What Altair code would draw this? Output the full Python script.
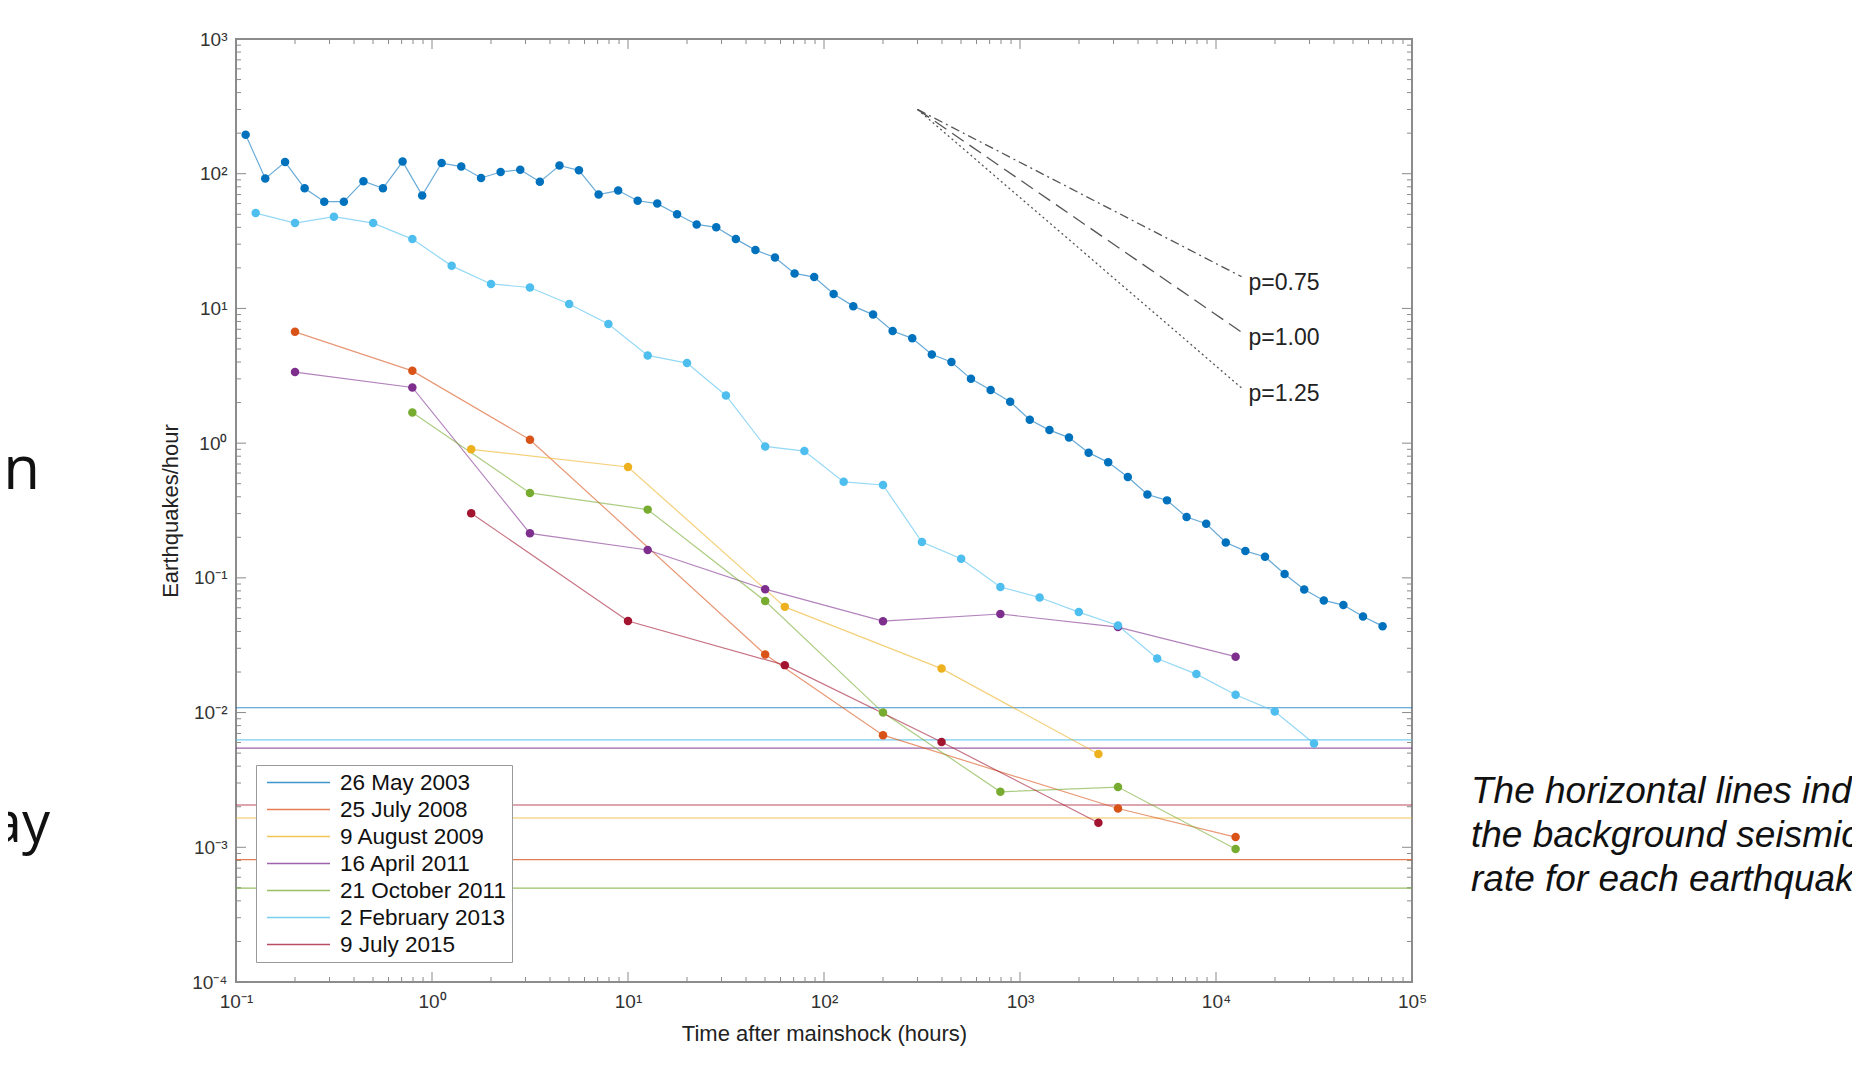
import altair as alt
import pandas as pd

# ---------------- data ----------------
events = ["26 May 2003", "25 July 2008", "9 August 2009", "16 April 2011",
          "21 October 2011", "2 February 2013", "9 July 2015"]
colors = ["#0072BD", "#D95319", "#EDB120", "#7E2F8E", "#77AC30", "#4DBEEE", "#A2142F"]

t_2003 = [0.112, 0.141, 0.178, 0.224, 0.282, 0.355, 0.447, 0.562, 0.708, 0.891,
          1.12, 1.41, 1.78, 2.24, 2.82, 3.55, 4.47, 5.62, 7.08, 8.91,
          11.2, 14.1, 17.8, 22.4, 28.2, 35.5, 44.7, 56.2, 70.8, 89.1,
          112, 141, 178, 224, 282, 355, 447, 562, 708, 891,
          1122, 1413, 1778, 2239, 2818, 3548, 4467, 5623, 7079, 8913,
          11220, 14125, 17783, 22387, 28184, 35481, 44668, 56234, 70795]
r_2003 = [195, 92, 122, 78, 62, 62, 88, 78, 123, 69,
          120, 113, 93, 103, 107, 87, 115, 106, 70, 75,
          63, 60, 50, 42, 40, 32.7, 27.1, 23.9, 18.2, 17.1,
          12.8, 10.4, 9.0, 6.8, 6.0, 4.55, 4.0, 3.0, 2.48, 2.03,
          1.49, 1.25, 1.10, 0.85, 0.72, 0.56, 0.416, 0.376, 0.283, 0.252,
          0.183, 0.158, 0.1435, 0.1067, 0.082, 0.068, 0.0628, 0.0517, 0.0438]

t_2008 = [0.2, 0.794, 3.16, 50.1, 200, 3162, 12589]
r_2008 = [6.7, 3.44, 1.06, 0.027, 0.0068, 0.00194, 0.00119]

t_2009 = [1.585, 10, 63.1, 398, 2512]
r_2009 = [0.90, 0.665, 0.0609, 0.0212, 0.00493]

t_2011a = [0.2, 0.794, 3.16, 12.6, 50.1, 200, 794, 3162, 12589]
r_2011a = [3.37, 2.59, 0.214, 0.161, 0.0824, 0.0477, 0.0539, 0.0431, 0.026]

t_2011b = [0.794, 3.16, 12.6, 50.1, 200, 794, 3162, 12589]
r_2011b = [1.69, 0.427, 0.321, 0.0673, 0.0100, 0.00258, 0.0028, 0.00097]

t_2013 = [0.126, 0.2, 0.316, 0.501, 0.794, 1.26, 2.0, 3.16, 5.01, 7.94,
          12.6, 20.0, 31.6, 50.1, 79.4, 126, 200, 316, 501, 794,
          1259, 1995, 3162, 5012, 7943, 12589, 19953, 31623]
r_2013 = [51, 43, 48, 43, 32.7, 20.7, 15.2, 14.3, 10.8, 7.66,
          4.48, 3.93, 2.26, 0.946, 0.873, 0.516, 0.489, 0.1845, 0.1387, 0.0855,
          0.0715, 0.0557, 0.0443, 0.0252, 0.0193, 0.01356, 0.0102, 0.0059]

t_2015 = [1.585, 10, 63.1, 398, 2512]
r_2015 = [0.302, 0.0478, 0.0225, 0.00604, 0.00152]

# background seismicity rate per event (same order as events)
bg_rates = [0.01086, 0.00081, 0.00165, 0.00545, 0.000498, 0.00628, 0.00206]

# Omori reference slopes
p_labels = ["p=0.75", "p=1.00", "p=1.25"]
p_start_t = 300
p_start_r = 300
p_end_t = 13500
p_end_r = [17.2, 6.66, 2.57]

# axis ticks
x_major = [0.1, 1, 10, 100, 1000, 10000, 100000]
x_labels = ["10⁻¹", "10⁰", "10¹", "10²", "10³", "10⁴", "10⁵"]
y_major = [0.0001, 0.001, 0.01, 0.1, 1, 10, 100, 1000]
y_labels = ["10⁻⁴", "10⁻³", "10⁻²", "10⁻¹", "10⁰", "10¹", "10²", "10³"]
x_minor = [m * 10.0 ** e for e in range(-1, 5) for m in range(2, 10)]
y_minor = [m * 10.0 ** e for e in range(-4, 3) for m in range(2, 10)]

x_title = "Time after mainshock (hours)"
y_title = "Earthquakes/hour"
note_text = "The horizontal lines indicate\nthe background seismicity\nrate for each earthquake"
side_texts = ["n", "ay"]

# ---------------- tables ----------------
series = [t_2003, t_2008, t_2009, t_2011a, t_2011b, t_2013, t_2015]
rates = [r_2003, r_2008, r_2009, r_2011a, r_2011b, r_2013, r_2015]
rows = []
for ev, ts, rs in zip(events, series, rates):
    for t, r in zip(ts, rs):
        rows.append({"event": ev, "t": t, "rate": r})
df = pd.DataFrame(rows)
bg_df = pd.DataFrame({"event": events, "rate": bg_rates})

pl_rows = []
for lab, er in zip(p_labels, p_end_r):
    pl_rows.append({"p": lab, "t": p_start_t, "rate": p_start_r})
    pl_rows.append({"p": lab, "t": p_end_t, "rate": er})
pl_df = pd.DataFrame(pl_rows)
plab_df = pd.DataFrame({"p": p_labels, "t": [p_end_t] * 3, "rate": p_end_r})

# ---------------- layout ----------------
W, H = 1176, 943
FONT = "Liberation Sans"
TICK = "#8a8a8a"


def lab_expr(vals, labs):
    parts = [f"datum.value < {v * 3} ? '{l}'" for v, l in zip(vals, labs)]
    return " : ".join(parts) + " : ''"


xaxis = alt.Axis(values=x_major, labelExpr=lab_expr(x_major, x_labels), ticks=False, tickSize=0,
                 domain=False, grid=False, labelFont=FONT, labelFontSize=19, labelColor="#333",
                 labelPadding=10, labelFlush=False, labelOverlap=False,
                 title=x_title, titleFont=FONT, titleFontSize=22, titleFontWeight="normal",
                 titleColor="#222", titleX=W / 2, titleY=51, titleAlign="center",
                 titleBaseline="middle")
yaxis = alt.Axis(values=y_major, labelExpr=lab_expr(y_major, y_labels), ticks=False, tickSize=0,
                 domain=False, grid=False, labelFont=FONT, labelFontSize=19, labelColor="#333",
                 labelPadding=9, labelFlush=False, labelOverlap=False,
                 title=y_title, titleFont=FONT, titleFontSize=22, titleFontWeight="normal",
                 titleColor="#222", titleX=-66, titleY=H / 2, titleAngle=270, titleAlign="center",
                 titleBaseline="middle")

xscale = alt.Scale(type="log", domain=[0.1, 100000], nice=False)
yscale = alt.Scale(type="log", domain=[0.0001, 1000], nice=False)


def X(f):
    return alt.X(f"{f}:Q", scale=xscale, axis=xaxis)


def Y(f):
    return alt.Y(f"{f}:Q", scale=yscale, axis=yaxis)


cscale = alt.Scale(domain=events, range=colors)
legend = alt.Legend(orient="none", legendX=20, legendY=726, title=None,
                    symbolType="M-1,0H5", symbolSize=441, symbolStrokeWidth=1.5,
                    symbolOffset=4, symbolOpacity=0.75, labelOffset=51,
                    labelFont=FONT, labelFontSize=22.5, labelColor="#111", labelLimit=400,
                    rowPadding=4, padding=6, strokeColor="#9a9a9a", fillColor="white",
                    zindex=1)

layers = []

# ticks (inside, all four sides)
xmaj = pd.DataFrame({"v": x_major})
xmin = pd.DataFrame({"v": x_minor})
ymaj = pd.DataFrame({"v": y_major})
ymin = pd.DataFrame({"v": y_minor})
for d, ln in [(xmaj, 10), (xmin, 5)]:
    layers.append(alt.Chart(d).mark_rule(color=TICK, strokeWidth=1).encode(
        x=X("v"), y=alt.value(H), y2=alt.value(H - ln)))
    layers.append(alt.Chart(d).mark_rule(color=TICK, strokeWidth=1).encode(
        x=X("v"), y=alt.value(0), y2=alt.value(ln)))
for d, ln in [(ymaj, 10), (ymin, 5)]:
    layers.append(alt.Chart(d).mark_rule(color=TICK, strokeWidth=1).encode(
        y=Y("v"), x=alt.value(0), x2=alt.value(ln)))
    layers.append(alt.Chart(d).mark_rule(color=TICK, strokeWidth=1).encode(
        y=Y("v"), x=alt.value(W), x2=alt.value(W - ln)))

# background rate lines (carry the legend)
layers.append(alt.Chart(bg_df).mark_rule(strokeWidth=1.2, opacity=0.75).encode(
    y=Y("rate"), color=alt.Color("event:N", scale=cscale, legend=legend)))

# Omori slope guides
layers.append(alt.Chart(pl_df).mark_line(color="#555555", strokeWidth=1.3).encode(
    x=X("t"), y=Y("rate"),
    strokeDash=alt.StrokeDash("p:N", scale=alt.Scale(domain=p_labels,
                                                      range=[[9, 4, 2, 4], [14, 7], [2, 3]]),
                              legend=None),
    detail="p:N"))
layers.append(alt.Chart(plab_df).mark_text(align="left", baseline="middle", dx=7, dy=6,
                                           font=FONT, fontSize=23, color="#222").encode(
    x=X("t"), y=Y("rate"), text="p:N"))

# event series
layers.append(alt.Chart(df).mark_line(strokeWidth=1.2, opacity=0.6).encode(
    x=X("t"), y=Y("rate"), color=alt.Color("event:N", scale=cscale, legend=None)))
layers.append(alt.Chart(df).mark_circle(size=72, opacity=1).encode(
    x=X("t"), y=Y("rate"), color=alt.Color("event:N", scale=cscale, legend=None)))

# surrounding slide text
layers.append(alt.Chart(pd.DataFrame({"s": [side_texts[0]]})).mark_text(
    align="right", baseline="alphabetic", font="Open Sans", fontSize=60, color="#111").encode(
    text="s:N", x=alt.value(40 - 236), y=alt.value(489 - 39)))
layers.append(alt.Chart(pd.DataFrame({"s": [side_texts[1]]})).mark_text(
    align="right", baseline="alphabetic", font="Open Sans", fontSize=56, color="#111").encode(
    text="s:N", x=alt.value(50 - 236), y=alt.value(842 - 39)))
layers.append(alt.Chart(pd.DataFrame({"s": [note_text]})).mark_text(
    align="left", baseline="alphabetic", font=FONT, fontSize=37, fontStyle="italic",
    lineBreak="\n", lineHeight=44, color="#111").encode(
    text="s:N", x=alt.value(1471 - 236), y=alt.value(803 - 39)))

chart = alt.layer(*layers).properties(
    width=W, height=H,
    autosize=alt.AutoSizeParams(type="none"),
    padding={"left": 228, "top": 31, "right": 440, "bottom": 85},
    background="white",
).configure_view(stroke="#8c8c8c", strokeWidth=2)

chart.save("out.html", embed_options={"renderer": "svg", "actions": False})
